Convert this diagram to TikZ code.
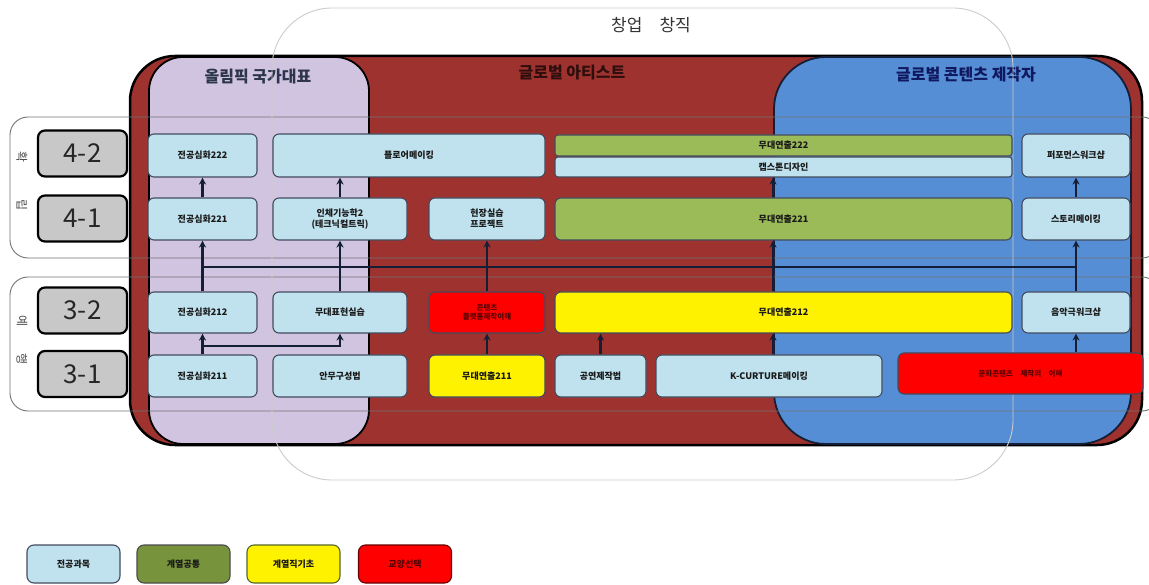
\documentclass[tikz,border=0pt]{standalone}
\usepackage{fontspec}
\setmainfont{Noto Sans CJK KR}
\usetikzlibrary{arrows.meta}
\definecolor{maroon}{RGB}{158,50,46}
\definecolor{lav}{RGB}{209,196,224}
\definecolor{gblue}{RGB}{86,142,213}
\definecolor{lblue}{RGB}{192,226,238}
\definecolor{lgreen}{RGB}{155,187,89}
\definecolor{olive}{RGB}{119,147,60}
\definecolor{navy}{RGB}{20,30,55}
\definecolor{gbox}{RGB}{200,200,200}
\tikzset{
  cbox/.style={draw=navy!80, line width=1.1pt, rounded corners=6pt, inner sep=1pt, align=center, text=black!90, font=\bfseries\fontsize{9}{11}\selectfont},
  cblue/.style={cbox, fill=lblue},
  cgreen/.style={cbox, fill=lgreen},
  cyellow/.style={cbox, fill=yellow},
  cred/.style={cbox, fill=red, text=red!35!black, font=\bfseries\fontsize{7.5}{9}\selectfont},
  arr/.style={-{Stealth[length=7pt,width=7pt]}, line width=2.2pt, draw=navy},
  conn/.style={line width=1.4pt, draw=navy},
  grp/.style={draw=black!55, line width=0.9pt, rounded corners=18pt},
  semlbl/.style={draw=black, line width=2.2pt, fill=gbox, rounded corners=7pt, minimum width=89pt, minimum height=46pt, font=\fontsize{26}{28}\selectfont, text=black!85},
  sidel/.style={font=\fontsize{12}{13}\selectfont, text=black!70, rotate=-90},
  ttl/.style={font=\bfseries\fontsize{16}{18}\selectfont},
  leg/.style={cbox, minimum width=93pt, minimum height=38pt, rounded corners=7pt}
}
\begin{document}
\begin{tikzpicture}[x=1pt,y=-1pt]
\useasboundingbox (0,0) rectangle (1149,585);
\clip (0,0) rectangle (1149,585);
\fill[white] (0,0) rectangle (1149,585);
% big regions
\draw[fill=maroon, draw=black, line width=2.5pt, rounded corners=45pt] (130,56) rectangle (1142,445);
\draw[fill=lav, draw=black, line width=1.8pt, rounded corners=34pt] (149,57) rectangle (369,444);
\draw[fill=gblue, draw=navy, line width=1.8pt, rounded corners=52pt] (774,57) rectangle (1131,444);
\node[ttl, text=navy!90] (tol) at (258,77) {올림픽 국가대표};
\node[ttl, text=maroon!30!black] (tga) at (572,73) {글로벌 아티스트};
\node[ttl, text=navy!80!blue] (tgc) at (966,75) {글로벌 콘텐츠 제작자};
% group boxes
\draw[grp] (10,117) rectangle (1160,258);
\draw[grp] (10,277) rectangle (1160,411);
% big outline
\draw[draw=black!20, line width=0.9pt, rounded corners=60pt] (272,8) rectangle (1013,480);
\node[font=\fontsize{17}{19}\selectfont, text=black!80] (tch) at (651,25) {창업\quad 창직};
% side labels
\node[semlbl] (s42) at (82.5,153.5) {4-2};
\node[semlbl] (s41) at (82.5,218.5) {4-1};
\node[semlbl] (s32) at (82.5,310.5) {3-2};
\node[semlbl] (s31) at (82.5,374) {3-1};
\node[sidel] (l1) at (22,157) {확};
\node[sidel] (l2) at (22,205) {립};
\node[sidel] (l3) at (22,321) {예};
\node[sidel] (l4) at (22,359) {행};
% course boxes
\node[cblue, minimum width=109pt, minimum height=43pt] (a42) at (202.5,155.5) {전공심화222};
\node[cblue, minimum width=109pt, minimum height=42pt] (a41) at (202.5,219) {전공심화221};
\node[cblue, minimum width=109pt, minimum height=41pt] (a32) at (202.5,312.5) {전공심화212};
\node[cblue, minimum width=109pt, minimum height=42pt] (a31) at (202.5,376) {전공심화211};
\node[cblue, minimum width=272pt, minimum height=43pt] (b42) at (409,155.5) {플로어메이킹};
\node[cblue, minimum width=134pt, minimum height=42pt] (b41) at (340,219) {인체기능학2\\(테크닉컬트릭)};
\node[cblue, minimum width=134pt, minimum height=41pt] (b32) at (340,312.5) {무대표현실습};
\node[cblue, minimum width=134pt, minimum height=42pt] (b31) at (340,376) {안무구성법};
\node[cblue, minimum width=116pt, minimum height=42pt] (c41) at (487,219) {현장실습\\프로젝트};
\node[cred, minimum width=116pt, minimum height=41pt] (c32) at (487,312.5) {콘텐츠\\플랫폼제작이해};
\node[cyellow, minimum width=116pt, minimum height=42pt] (c31) at (487,376) {무대연출211};
\node[cgreen, minimum width=457pt, minimum height=21pt, rounded corners=3pt] (d42g) at (783.5,145.5) {무대연출222};
\node[cblue, minimum width=457pt, minimum height=20pt, rounded corners=3pt] (d42b) at (783.5,167) {캡스톤디자인};
\node[cgreen, minimum width=457pt, minimum height=42pt] (d41) at (783.5,219) {무대연출221};
\node[cyellow, minimum width=457pt, minimum height=41pt] (d32) at (783.5,312.5) {무대연출212};
\node[cblue, minimum width=91pt, minimum height=42pt] (d31) at (600.5,376) {공연제작법};
\node[cblue, minimum width=226pt, minimum height=42pt] (e31) at (769,376) {K-CURTURE메이킹};
\node[cred, minimum width=245pt, minimum height=41pt] (f31) at (1020.5,373.5) {문화콘텐츠\quad 제작의\quad 이해};
\node[cblue, minimum width=108pt, minimum height=43pt] (g42) at (1076,155.5) {퍼포먼스워크샵};
\node[cblue, minimum width=108pt, minimum height=42pt] (g41) at (1076,219) {스토리메이킹};
\node[cblue, minimum width=108pt, minimum height=41pt] (g32) at (1076,312.5) {음악극워크샵};
% connectors
\coordinate (hl) at (0,267);
\coordinate (br) at (0,346);
\coordinate (xk) at (773,0);
\draw[conn] (a32.north |- hl) -- (g32.north |- hl);
\draw[arr] (a31) -- (a32);
\draw[arr] (a31.north) |- (b32.south |- br) -- (b32.south);
\draw[arr] (a32) -- (a41);
\draw[arr] (a41) -- (a42);
\draw[arr] (b32) -- (b41);
\draw[arr] (b41.north) -- (b42.south -| b41.north);
\draw[arr] (c31) -- (c32);
\draw[arr] (c32) -- (c41);
\draw[arr] (d31) -- (d31 |- d32.south);
\draw[arr] (e31.north -| xk) -- (d32.south -| xk);
\draw[arr] (d32.north -| xk) -- (d41.south -| xk);
\draw[arr] (d41.north -| xk) -- (d42b.south -| xk);
\draw[arr] (f31.north -| g32.south) -- (g32.south);
\draw[arr] (g32) -- (g41);
\draw[arr] (g41) -- (g42);
% legend
\node[leg, fill=lblue] (k1) at (73.5,564) {전공과목};
\node[leg, fill=olive, draw=black!70] (k2) at (183.5,564) {계열공통};
\node[leg, fill=yellow, draw=olive!70!black] (k3) at (293.5,564) {계열직기초};
\node[leg, fill=red, draw=red!40!black, text=red!35!black] (k4) at (405,564) {교양선택};
\end{tikzpicture}
\end{document}
